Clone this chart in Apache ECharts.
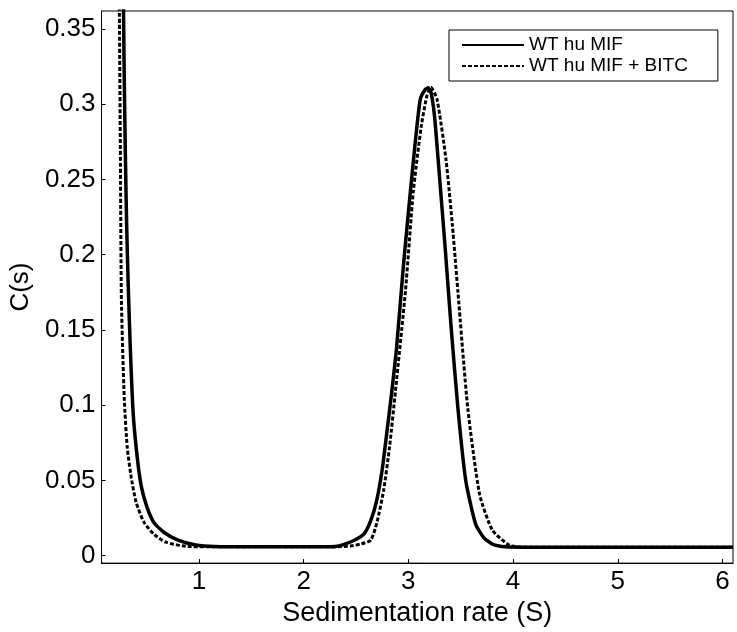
<!DOCTYPE html>
<html>
<head>
<meta charset="utf-8">
<script src="https://cdn.jsdelivr.net/npm/echarts@6/dist/echarts.min.js"></script>
<style>
html,body{margin:0;padding:0;background:#fff;}
#chart{width:737px;height:632px;}
</style>
</head>
<body>
<div id="chart"></div>
<script>
// Tick labels
const xTicks = [1, 2, 3, 4, 5, 6];
const yTicks = [0, 0.05, 0.1, 0.15, 0.2, 0.25, 0.3, 0.35];
const seriesNames = ['WT hu MIF', 'WT hu MIF + BITC'];

// WT hu MIF (solid)
const solidX = [0.25, 0.275, 0.285, 0.297, 0.31, 0.325, 0.345, 0.372, 0.41, 0.45, 0.505, 0.57, 0.665, 0.80, 0.97, 1.15, 1.6, 2.0, 2.2, 2.30, 2.386, 2.48, 2.575, 2.64, 2.698, 2.75, 2.792, 2.84, 2.887, 2.953, 3.019, 3.066, 3.114, 3.161, 3.19, 3.217, 3.25, 3.284, 3.35, 3.407, 3.473, 3.548, 3.643, 3.72, 3.803, 3.926, 4.1, 4.5, 5.0, 5.5, 6.1];
const solidY = [0.60, 0.40, 0.33, 0.27, 0.22, 0.18, 0.138, 0.095, 0.066, 0.046, 0.032, 0.022, 0.0155, 0.0102, 0.007, 0.006, 0.0058, 0.0058, 0.0058, 0.006, 0.0075, 0.010, 0.0142, 0.023, 0.0367, 0.057, 0.0803, 0.108, 0.1379, 0.1928, 0.2417, 0.2748, 0.3033, 0.3098, 0.311, 0.3078, 0.292, 0.2635, 0.2060, 0.1531, 0.0982, 0.0499, 0.0208, 0.012, 0.0076, 0.0058, 0.0056, 0.0056, 0.0056, 0.0056, 0.0056];

// WT hu MIF + BITC (dashed)
const dashedX = [0.22, 0.24, 0.25, 0.26, 0.287, 0.316, 0.354, 0.401, 0.476, 0.571, 0.684, 0.873, 1.1, 1.6, 2.0, 2.3, 2.45, 2.55, 2.641, 2.70, 2.764, 2.82, 2.877, 2.972, 3.047, 3.123, 3.18, 3.217, 3.274, 3.359, 3.42, 3.473, 3.567, 3.681, 3.803, 3.964, 4.09, 4.5, 5.0, 5.5, 6.1];
const dashedY = [0.60, 0.37, 0.27, 0.17, 0.105, 0.0717, 0.0519, 0.0353, 0.0221, 0.0142, 0.0089, 0.0062, 0.0058, 0.0058, 0.0058, 0.0058, 0.0064, 0.0078, 0.0102, 0.022, 0.0433, 0.072, 0.1094, 0.1756, 0.2417, 0.2853, 0.3065, 0.3111, 0.3033, 0.2635, 0.220, 0.1756, 0.0982, 0.0406, 0.0168, 0.0069, 0.0056, 0.0056, 0.0056, 0.0056, 0.0056];

const zip = (xs, ys) => xs.map((x, i) => [x, ys[i]]);
const FONT = 'Liberation Sans, Arial, sans-serif';

const chart = echarts.init(document.getElementById('chart'), null, {renderer: 'canvas'});
chart.setOption({
  backgroundColor: '#fff',
  animation: false,
  grid: {left: 95, right: 4, top: 11, bottom: 66, show: true, borderColor: '#000', borderWidth: 1, backgroundColor: 'transparent'},
  legend: {
    orient: 'vertical', left: 449, top: 30,
    padding: [5, 30, 5, 12], itemGap: 1,
    itemWidth: 62, itemHeight: 14,
    backgroundColor: '#fff', borderColor: '#000', borderWidth: 1, borderRadius: 0,
    itemStyle: {opacity: 0, borderWidth: 0},
    textStyle: {fontFamily: FONT, fontSize: 19, color: '#000', lineHeight: 20},
    data: seriesNames
  },
  xAxis: {
    type: 'value', min: 0.07, max: 6.1,
    name: 'Sedimentation rate (S)', nameLocation: 'middle', nameGap: 30,
    nameTextStyle: {fontFamily: FONT, fontSize: 27, color: '#000'},
    axisLine: {show: true, onZero: false, lineStyle: {color: '#000', width: 1}},
    axisTick: {show: true, inside: true, length: 4, customValues: xTicks, lineStyle: {color: '#000'}},
    axisLabel: {customValues: xTicks, fontFamily: FONT, fontSize: 26, color: '#000', margin: 6},
    splitLine: {show: false}
  },
  yAxis: {
    type: 'value', min: -0.005, max: 0.362,
    name: 'C(s)', nameLocation: 'middle', nameGap: 60, nameRotate: 90,
    nameTextStyle: {fontFamily: FONT, fontSize: 26, color: '#000'},
    axisLine: {show: true, onZero: false, lineStyle: {color: '#000', width: 1}},
    axisTick: {show: true, inside: true, length: 4, customValues: yTicks, lineStyle: {color: '#000'}},
    axisLabel: {customValues: yTicks, fontFamily: FONT, fontSize: 26, color: '#000', margin: 6,
      formatter: v => String(+(+v).toFixed(2))},
    splitLine: {show: false}
  },
  series: [
    {name: seriesNames[0], type: 'line', data: zip(solidX, solidY), showSymbol: false, symbol: 'none',
      smooth: 0.2, clip: true, lineStyle: {color: '#000', width: 3.5, type: 'solid'}, itemStyle: {color: '#000'}, z: 2},
    {name: seriesNames[1], type: 'line', data: zip(dashedX, dashedY), showSymbol: false, symbol: 'none',
      smooth: 0.2, clip: true, lineStyle: {color: '#000', width: 3, type: [4, 2]}, itemStyle: {color: '#000'}, z: 3}
  ]
});
</script>
</body>
</html>
